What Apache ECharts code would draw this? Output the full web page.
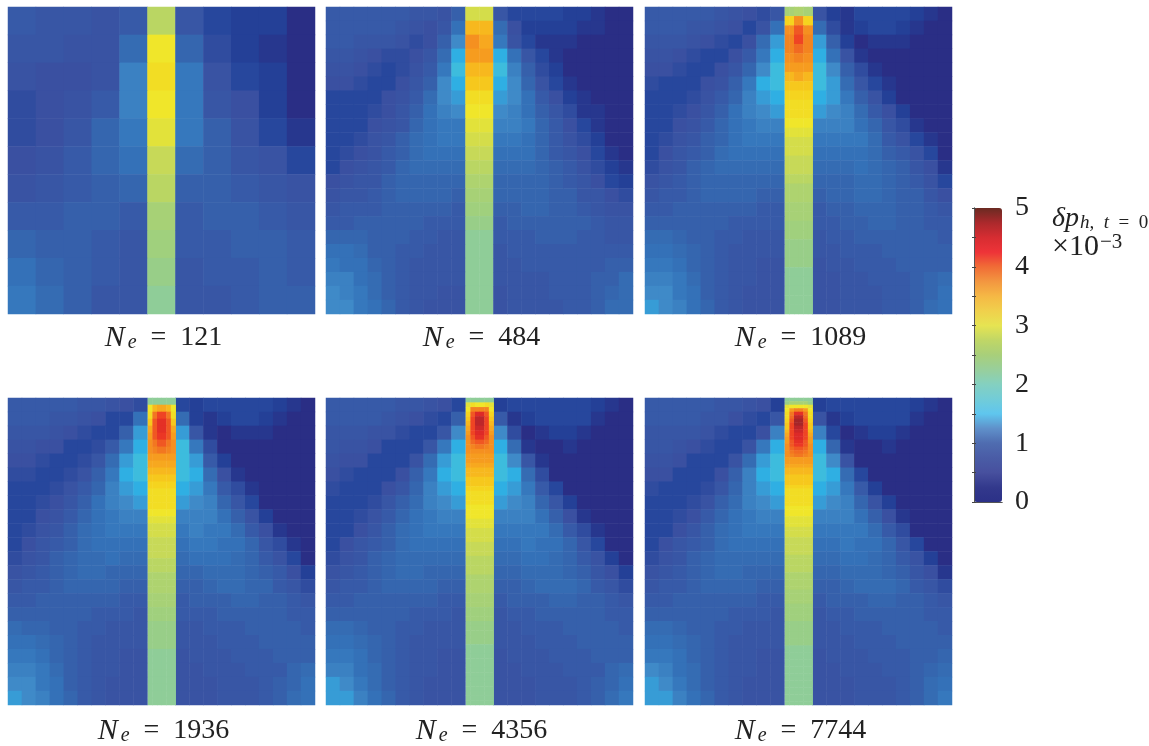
<!DOCTYPE html>
<html><head><meta charset="utf-8">
<style>html,body{margin:0;padding:0;background:#fff}#c{width:1149px;height:746px}</style>
<script src="https://cdn.jsdelivr.net/npm/echarts@6/dist/echarts.min.js"></script>
</head><body><div id="c"></div>
<script>
// All values are in units of 1e-4 (value / 10 is the colour bar reading, x10^-3)
const cellsNe121 = [
[8,7,7,6,8,26,7,3,2,2,0],[7,7,6,6,11,30,10,4,2,1,0],[6,5,5,6,14,31,13,6,3,2,0],[4,5,6,8,14,30,13,7,5,2,0],
[4,5,7,10,13,29,13,9,6,3,1],[5,6,8,10,12,27,11,9,7,6,3],[6,7,8,9,10,26,9,9,8,7,6],[8,8,9,9,8,24,8,9,9,8,7],
[10,9,9,8,7,23,8,8,9,9,8],[12,10,9,8,7,22,7,8,8,9,8],[13,11,9,7,7,21,7,7,8,9,9]];
const cellsNe484 = [
[8,8,8,8,8,8,7,7,6,9,28,28,7,3,3,3,3,2,2,1,0,0],[8,8,8,8,8,7,6,5,7,12,34,34,11,5,2,2,2,2,1,1,0,0],
[8,8,7,7,7,6,4,5,9,15,37,35,13,6,3,1,1,1,0,0,0,0],[7,7,6,5,4,4,5,7,11,17,36,36,17,12,7,3,1,0,0,0,0,0],
[6,6,5,4,3,4,6,8,13,18,34,34,18,14,9,4,2,0,0,0,0,0],[5,5,4,3,3,5,7,9,15,17,33,33,17,15,10,6,3,1,0,0,0,0],
[3,3,3,3,5,6,8,11,15,16,31,31,16,15,12,8,5,2,1,0,0,0],[3,3,3,4,5,7,9,12,14,15,30,30,15,14,12,9,7,4,1,1,0,0],
[3,3,3,5,6,7,10,12,13,13,29,29,14,14,13,10,8,5,3,1,0,0],[3,3,4,6,7,9,11,12,13,13,28,28,13,13,12,10,8,6,4,2,0,0],
[3,4,5,6,8,9,11,12,12,12,27,27,12,12,12,10,8,7,5,3,1,0],[3,5,6,7,8,10,11,11,11,11,26,26,11,11,11,10,9,8,6,4,2,1],
[5,6,7,7,9,10,10,10,10,10,25,25,10,10,10,10,9,8,7,5,3,2],[6,7,7,8,9,10,10,10,10,9,24,24,10,10,10,10,9,9,7,7,5,4],
[7,8,8,8,9,9,9,9,9,8,23,23,9,9,10,10,9,9,8,7,6,6],[8,8,9,9,9,9,9,8,8,8,22,22,8,9,9,9,9,9,9,8,7,7],
[10,10,10,9,9,9,8,8,7,7,21,21,8,8,8,9,9,9,8,8,7,7],[12,12,11,9,9,8,8,7,7,7,21,21,7,8,8,8,8,8,8,8,8,8],
[13,12,12,10,9,8,7,7,7,7,21,21,7,7,8,8,8,8,8,8,9,9],[14,14,12,11,9,8,7,7,7,7,21,21,7,7,7,7,8,8,8,9,9,11],
[15,14,13,11,9,8,7,7,6,6,21,21,6,7,7,7,8,8,8,9,10,11],[15,15,13,12,10,8,7,6,6,6,21,21,6,7,7,7,7,8,8,9,11,11]];
// Ne = 1089..7744: surrounding matrix (10 columns left + 10 columns right of the central strip)
const sideNe1089 = [
[8,8,8,8,8,7,6,5,4,7,6,2,1,3,3,3,3,2,1,0],[8,8,8,7,7,6,5,3,6,12,11,4,1,2,3,3,2,1,0,0],
[7,7,7,6,5,4,3,5,11,16,16,9,2,0,1,1,1,0,0,0],[6,6,5,4,3,3,5,8,13,17,17,12,6,1,0,0,0,0,0,0],
[5,5,4,3,3,5,7,10,15,18,18,15,9,4,1,0,0,0,0,0],[4,3,3,3,5,6,9,13,17,18,18,16,11,7,3,1,0,0,0,0],
[3,3,3,4,6,8,10,14,16,17,17,16,13,9,6,2,0,0,0,0],[3,3,4,5,7,9,12,14,15,16,16,15,14,11,8,5,2,0,0,0],
[3,3,5,6,8,10,12,13,14,14,14,14,14,12,10,7,4,1,0,0],[3,4,6,7,9,10,12,13,13,13,13,13,13,13,11,8,6,3,1,0],
[3,5,7,8,9,11,12,12,12,12,12,12,12,12,11,9,8,6,3,0],[4,6,7,9,10,11,11,11,11,11,11,11,11,12,11,10,9,7,5,1],
[6,7,8,9,10,10,10,10,10,10,10,10,10,11,11,10,9,8,6,3],[7,8,8,9,10,10,10,10,9,9,9,10,10,11,11,10,9,9,7,5],
[8,8,9,9,9,9,9,9,8,8,8,9,9,10,10,10,9,9,8,7],[9,9,9,9,9,9,8,8,8,8,8,8,9,9,10,10,9,9,8,8],
[11,11,10,9,9,8,8,7,7,7,7,8,8,9,9,9,9,9,9,8],[12,12,11,10,9,8,7,7,7,7,7,7,8,8,8,9,9,9,9,9],
[13,13,12,10,9,8,7,7,6,6,6,7,7,8,8,8,9,9,9,9],[14,14,13,11,9,8,7,7,6,6,6,6,7,7,8,8,8,9,10,11],
[15,15,13,12,9,8,7,6,6,6,6,6,7,7,7,8,8,9,10,12],[16,15,14,12,10,8,7,6,6,6,6,6,7,7,7,8,8,9,11,12]];
const sideNe1936 = [
[8,8,8,8,8,7,7,6,5,4,3,2,3,3,3,3,3,2,1,0],[8,8,8,7,7,6,5,3,3,12,11,2,1,2,3,3,2,1,0,0],
[7,7,7,6,5,4,3,3,9,16,16,7,1,0,1,1,1,0,0,0],[6,6,5,5,3,3,4,8,13,17,18,13,4,0,0,0,0,0,0,0],
[5,5,4,3,3,4,7,11,16,18,18,16,8,2,0,0,0,0,0,0],[4,4,3,3,4,6,9,13,17,18,18,17,11,5,1,0,0,0,0,0],
[3,3,3,4,6,8,10,14,16,17,17,16,13,8,4,1,0,0,0,0],[3,3,4,5,7,9,12,14,15,16,16,15,14,10,7,3,0,0,0,0],
[3,3,5,6,8,10,12,13,14,14,14,14,14,12,9,6,2,0,0,0],[3,4,6,7,9,11,12,13,13,13,13,14,13,13,11,8,5,1,0,0],
[3,5,7,8,9,11,12,12,12,12,12,13,13,12,12,10,7,4,1,0],[4,6,7,9,10,11,11,12,11,11,11,12,12,12,11,10,8,6,3,0],
[6,7,8,9,10,11,11,10,10,10,10,10,11,11,11,10,9,8,5,2],[7,8,8,9,10,10,10,10,9,9,9,9,10,11,11,10,10,8,7,4],
[8,8,9,9,9,9,9,9,8,8,8,9,9,9,10,10,9,9,8,7],[9,9,9,9,9,9,8,8,8,7,8,8,8,9,9,9,9,9,8,8],
[11,10,10,9,9,8,8,7,7,7,7,7,8,8,8,9,9,9,9,8],[12,12,11,10,9,8,7,7,7,7,7,7,7,8,8,8,9,9,9,9],
[13,13,12,10,9,8,7,7,6,6,6,7,7,7,8,8,8,9,9,9],[14,14,13,11,9,8,7,7,6,6,6,6,7,7,7,8,8,8,10,11],
[15,15,13,12,9,8,7,6,6,6,6,6,6,7,7,7,8,9,10,12],[16,15,14,12,10,8,7,6,6,6,6,6,6,7,7,7,8,9,11,12]];
const sideNe4356 = [
[8,8,8,8,8,7,7,6,5,3,2,3,3,3,3,3,3,2,1,0],[8,8,8,8,7,6,5,4,3,9,8,1,2,3,3,3,3,1,0,0],
[7,7,7,6,6,4,3,3,7,15,15,4,0,1,2,2,1,0,0,0],[7,6,6,5,3,3,3,7,13,17,17,11,1,0,0,1,0,0,0,0],
[6,5,5,3,3,3,6,11,16,18,18,15,7,1,0,0,0,0,0,0],[5,4,3,3,3,5,9,13,17,18,18,17,11,4,0,0,0,0,0,0],
[4,3,3,3,5,7,10,14,16,17,17,16,13,8,3,0,0,0,0,0],[3,3,3,4,7,9,11,14,15,16,16,15,14,10,7,2,0,0,0,0],
[3,3,4,6,8,10,12,13,14,14,14,14,14,12,9,5,1,0,0,0],[3,3,5,7,9,11,12,13,13,13,13,13,13,13,11,8,4,1,0,0],
[3,5,7,8,9,11,12,12,12,12,12,12,13,12,12,10,7,3,0,0],[4,6,7,9,10,11,11,11,11,11,11,11,12,12,11,10,8,6,2,0],
[6,7,8,9,10,11,11,10,10,10,10,10,11,11,11,10,9,7,5,2],[7,8,8,9,10,10,10,10,9,9,9,9,10,11,11,11,10,8,7,4],
[8,8,9,9,9,9,9,9,8,8,8,9,9,9,10,10,9,9,8,7],[9,9,9,9,9,9,8,8,8,7,7,8,8,9,9,9,9,9,8,8],
[11,11,10,9,9,8,8,7,7,7,7,7,8,8,8,9,9,9,9,8],[12,12,11,10,9,8,7,7,7,7,7,7,7,8,8,8,9,9,9,9],
[13,13,12,10,9,8,7,7,6,6,6,7,7,7,8,8,8,9,9,9],[14,14,12,11,9,8,7,7,6,6,6,6,7,7,7,8,8,8,10,11],
[16,15,13,11,9,8,7,6,6,6,6,6,6,7,7,7,8,9,10,12],[16,16,14,12,10,8,7,6,6,6,6,6,6,7,7,7,8,9,11,13]];
const sideNe7744 = [
[8,8,8,8,8,7,7,6,5,2,2,3,3,3,3,3,3,2,1,0],[8,8,8,8,7,7,5,4,3,7,6,1,2,3,3,3,3,1,0,0],
[7,7,7,7,6,4,3,3,5,14,14,3,0,1,2,2,1,0,0,0],[7,7,6,5,4,3,3,6,13,17,17,10,1,0,0,1,0,0,0,0],
[6,6,5,3,3,3,6,11,16,18,18,15,6,0,0,0,0,0,0,0],[5,5,3,3,3,5,9,14,17,18,18,17,11,3,0,0,0,0,0,0],
[4,3,3,3,4,7,10,14,16,17,17,16,13,8,2,0,0,0,0,0],[3,3,3,4,6,9,11,14,15,16,16,15,14,10,6,2,0,0,0,0],
[3,3,4,5,8,10,12,13,14,14,14,14,14,12,9,5,1,0,0,0],[3,3,5,7,9,11,12,13,13,13,13,13,13,13,11,8,4,0,0,0],
[3,5,7,8,9,11,12,12,12,12,12,12,13,12,12,10,7,3,0,0],[4,6,7,9,10,11,11,11,11,11,11,11,12,12,11,10,8,6,2,0],
[6,7,8,9,10,11,11,10,10,10,10,10,11,11,11,10,9,7,5,1],[7,8,8,9,10,10,10,10,9,9,9,9,10,11,11,11,10,8,7,4],
[8,8,9,9,9,9,9,9,8,8,8,9,9,9,10,10,9,9,8,7],[9,9,9,9,9,9,8,8,8,7,7,8,8,9,9,9,9,9,8,8],
[11,11,10,9,9,8,8,7,7,7,7,7,8,8,8,9,9,9,9,8],[12,12,11,10,9,8,7,7,7,7,7,7,7,8,8,8,9,9,9,9],
[13,13,12,10,9,8,7,7,6,6,6,7,7,7,8,8,8,9,9,10],[15,14,12,11,9,8,7,7,6,6,6,6,7,7,7,8,8,9,10,11],
[16,15,13,11,9,8,7,6,6,6,6,6,6,7,7,7,8,9,11,12],[16,16,14,12,10,8,7,6,6,6,6,6,6,7,7,7,8,9,11,13]];
// Central strip: top rows as [edge, middle, core], lower rows one value across the strip
const stripTopNe1089 = [[24,24,25],[32,32,37],[37,37,41],[38,38,42],[38,38,40],[37,37,38],[36,36,36],[34,34,35],[33,33,33],[32,32,32]];
const stripBodyNe1089 = [31,31,30,29,28,28,27,27,26,25,25,24,24,23,23,22,22,22,21,21,21,21,21];
const stripTopNe1936 = [[21,21,21],[30,34,35],[31,39,42],[33,41,44],[35,41,44],[36,41,43],[37,39,41],[37,38,39],[36,36,36],[35,35,35]];
const stripBodyNe1936 = [34,33,32,31,31,31,30,29,28,28,27,27,27,26,26,25,25,25,24,24,23,23,22,22,22,22,21,21,21,21,21,21,21,21];
const stripTopNe4356 = [[21,21,21],[29,31,30],[30,38,38],[32,41,45],[33,42,47],[34,42,47],[35,42,46],[36,42,45],[37,41,44],[37,40,41],[37,38,39],[37,37,37]];
const stripBodyNe4356 = [36,36,35,34,34,33,33,32,31,31,31,30,30,30,29,29,28,28,28,27,27,27,26,26,26,26,25,25,25,25,24,24,24,23,23,23,22,22,22,22,22,21,21,21,21,21,21,21,21,21,21,21,21,21];
const stripTopNe7744 = [[21,21,21],[22,24,24],[29,30,30],[30,36,38],[31,39,44],[31,40,47],[32,41,48],[33,42,48],[33,42,47],[34,42,46],[35,42,45],[36,42,45],[36,41,44],[37,41,43],[37,40,41],[37,39,40],[37,38,39]];
const stripBodyNe7744 = [36,36,35,34,34,33,33,33,32,31,31,31,31,31,30,30,30,29,29,29,28,28,28,27,27,27,27,27,26,26,26,26,26,25,25,25,25,25,24,24,24,24,23,23,23,23,23,22,22,22,22,22,22,22,21,21,21,21,21,21,21,21,21,21,21,21,21,21,21,21,21];
const colourTicks = [0,1,2,3,4,5];
const meshLabels = ['121','484','1089','1936','4356','7744'];

const PW = 307, SERIF = '"Liberation Serif"';
const panelLeft = [8,326,645,8,326,645], panelTop = [7,7,7,398,398,398];
const labelGap = [4,4,4,6,6,6];
const panelColors = ['#2a2e85','#22459c','#3a50a1','#3857a6','#3566af','#3474ba','#3f8ac8','#2bb8ea','#86cba8','#9dcf80','#aed36f','#cddb52','#f0e62a','#f6d01c','#f7a81f','#f48a20','#f16a22','#ee3a24','#dd2a28','#b5252a','#6b2a1f'];
const barColors = ['#2b3087','#33398c','#47509e','#4a5ca6','#4f6cb0','#5f90ca','#5fc6ee','#72ccd8','#84d0c0','#98cf9c','#a8cf7a','#c0d666','#e6e452','#f0d04c','#f5b845','#f39640','#f06c36','#ee3338','#d62d32','#ab292c','#6a2a22'];

const grids=[],xAxes=[],yAxes=[],series=[],titles=[];
function idx(n){return Array.from({length:n},(_,i)=>String(i));}
function addHeat(left,top,w,h,rows,nCols){
  const g=grids.length, data=[];
  grids.push({left,top,width:w,height:h,containLabel:false});
  xAxes.push({type:'category',gridIndex:g,data:idx(nCols),show:false});
  yAxes.push({type:'category',gridIndex:g,data:idx(rows.length),show:false,inverse:true});
  rows.forEach((r,y)=>r.forEach((v,x)=>{ if(v!==null) data.push([x,y,v/10]); }));
  series.push({type:'heatmap',xAxisIndex:g,yAxisIndex:g,data,silent:true,progressive:0,emphasis:{disabled:true},itemStyle:{borderWidth:0}});
}
function addFine(i,side,top,body){
  const rows=side.map(r=>[...r.slice(0,10),null,null,...r.slice(10)]);
  addHeat(panelLeft[i],panelTop[i],PW,PW,rows,22);
  const stripRows=[...top.map(t=>[t[0],t[1],t[2],t[2],t[1],t[0]]),...body.map(v=>[v,v,v,v,v,v])];
  addHeat(panelLeft[i]+140,panelTop[i],27.7,PW,stripRows,6);
}
addHeat(panelLeft[0],panelTop[0],PW,PW,cellsNe121,11);
addHeat(panelLeft[1],panelTop[1],PW,PW,cellsNe484,22);
addFine(2,sideNe1089,stripTopNe1089,stripBodyNe1089);
addFine(3,sideNe1936,stripTopNe1936,stripBodyNe1936);
addFine(4,sideNe4356,stripTopNe4356,stripBodyNe4356);
addFine(5,sideNe7744,stripTopNe7744,stripBodyNe7744);

const ink='#222', plain={fontFamily:SERIF,fontWeight:'normal',color:ink};
meshLabels.forEach((m,i)=>{
  titles.push({left:panelLeft[i]+PW/2-3,top:panelTop[i]+PW+labelGap[i],textAlign:'center',
    text:'{n|N}{e|e}{t|  =  '+m+'}',
    textStyle:{fontWeight:'normal',rich:{n:{...plain,fontStyle:'italic',fontSize:30},
      e:{...plain,fontStyle:'italic',fontSize:20,padding:[10,0,0,3]},
      t:{...plain,fontSize:28}}}});
});
titles.push({left:1047,top:200,text:'{d|\u03b4p}{s|h,  t}{q|  =  }{z|0}',textStyle:{fontWeight:'normal',rich:{
  d:{...plain,fontStyle:'italic',fontSize:28},
  s:{...plain,fontStyle:'italic',fontSize:19,padding:[8,0,0,1]},
  q:{...plain,fontSize:19,padding:[8,0,0,0]},
  z:{...plain,fontSize:19,padding:[8,0,0,0]}}}});
titles.push({left:1047,top:227,text:'{d|\u00d710}{s|\u22123}',textStyle:{fontWeight:'normal',rich:{
  d:{...plain,fontSize:30},
  s:{...plain,fontSize:21,padding:[0,0,10,1]}}}});

// colour bar frame, ticks and labels
const cg=grids.length;
grids.push({left:974,top:208,width:28,height:294});
const barLine={show:true,lineStyle:{color:'#555',width:1}};
xAxes.push({type:'value',gridIndex:cg,min:0,max:1,position:'top',axisLine:barLine,axisTick:{show:false},axisLabel:{show:false},splitLine:{show:false},z:10});
xAxes.push({type:'value',gridIndex:cg,min:0,max:1,position:'bottom',axisLine:barLine,axisTick:{show:false},axisLabel:{show:false},splitLine:{show:false},z:10});
yAxes.push({type:'value',gridIndex:cg,min:0,max:5,interval:0.5,position:'right',z:10,axisLine:barLine,
  axisTick:{show:true,inside:true,length:2,lineStyle:{color:'#444'}},splitLine:{show:false},
  axisLabel:{show:true,margin:13,fontFamily:SERIF,fontSize:28,color:ink,hideOverlap:false,
    formatter:v=>colourTicks.includes(v)?String(v):''}});
yAxes.push({type:'value',gridIndex:cg,min:0,max:5,interval:0.5,position:'left',z:10,axisLine:barLine,
  axisTick:{show:true,inside:true,length:2,lineStyle:{color:'#444'}},splitLine:{show:false},axisLabel:{show:false}});

const chart=echarts.init(document.getElementById('c'),null,{renderer:'canvas'});
chart.setOption({
  animation:false,backgroundColor:'#fff',tooltip:{show:false},
  title:titles,grid:grids,xAxis:xAxes,yAxis:yAxes,series,
  visualMap:[
    {type:'continuous',show:false,min:0,max:5,dimension:2,seriesIndex:series.map((_,i)=>i),inRange:{color:panelColors}},
    {type:'continuous',show:true,min:0,max:5,calculable:false,seriesIndex:[],left:974,top:208,padding:0,itemWidth:28,itemHeight:294,
      inRange:{color:barColors},text:null,showLabel:false}
  ]
});
</script></body></html>
